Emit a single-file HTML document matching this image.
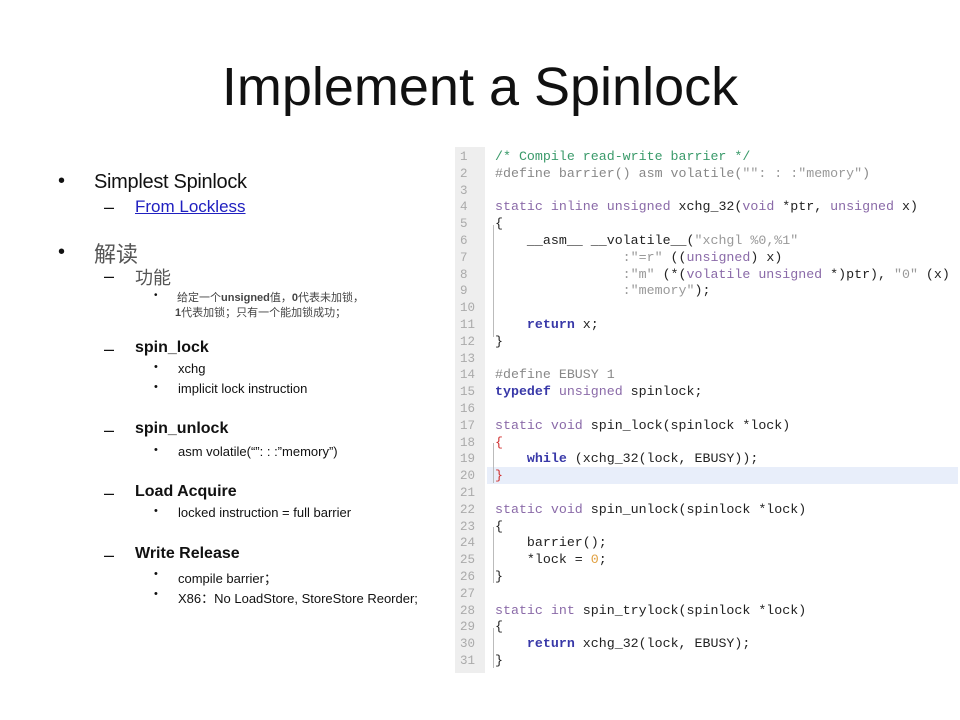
<!DOCTYPE html>
<html><head><meta charset="utf-8"><style>
body{margin:0;width:960px;height:720px;background:#fff;position:relative;overflow:hidden;font-family:"Liberation Sans","Noto Sans CJK SC",sans-serif;color:#111}
.a{position:absolute;white-space:nowrap}
h1{position:absolute;left:0;width:960px;top:56px;margin:0;text-align:center;font-weight:normal;font-size:54px;font-family:"Liberation Sans","DejaVu Sans",sans-serif;color:#111}
.code{position:absolute;left:455px;top:147px;width:503px;height:526px;background:#fff}
.gut{position:absolute;left:0;top:0;width:30px;height:526px;background:#eee}
.ln{position:absolute;left:0;width:28px;text-align:left;padding-left:5px;font:12.5px "Liberation Mono",monospace;color:#aaa}
.cl{position:absolute;left:40px;font:13.3px/16.8px "Liberation Mono",monospace;color:#222;white-space:pre}
.c{color:#3a9a6a}.p{color:#8a6aa8}.k{color:#3838a8;font-weight:bold}.s{color:#999}.g{color:#888}.o{color:#e0a040}
</style></head><body>
<h1>Implement a Spinlock</h1>
<div class="a" style="left:58px;top:170px;font-size:20px">•</div>
<div class="a" style="left:94px;top:171px;font-size:20px;letter-spacing:-0.3px">Simplest Spinlock</div>
<div class="a" style="left:104px;top:197px;font-size:18px">–</div>
<div class="a" style="left:135px;top:197px;font-size:17px;color:#2020c0;text-decoration:underline">From Lockless</div>
<div class="a" style="left:58px;top:241px;font-size:20px">•</div>
<div class="a" style="left:94px;top:237px;font-size:22px;color:#555">解读</div>
<div class="a" style="left:104px;top:266px;font-size:18px">–</div>
<div class="a" style="left:135px;top:264px;font-size:18px;color:#555">功能</div>
<div class="a" style="left:154px;top:290px;font-size:10px">•</div>
<div class="a" style="left:177px;top:289px;font-size:11px;color:#444">给定一个<b>unsigned</b>值，<b>0</b>代表未加锁，</div>
<div class="a" style="left:175px;top:304px;font-size:11px;color:#444"><b>1</b>代表加锁；只有一个能加锁成功；</div>
<div class="a" style="left:104px;top:339px;font-size:18px">–</div>
<div class="a" style="left:135px;top:339px;font-size:16px;font-weight:bold">spin_lock</div>
<div class="a" style="left:154px;top:361px;font-size:11px">•</div>
<div class="a" style="left:178px;top:361px;font-size:13px">xchg</div>
<div class="a" style="left:154px;top:381px;font-size:11px">•</div>
<div class="a" style="left:178px;top:381px;font-size:13px">implicit lock instruction</div>
<div class="a" style="left:104px;top:420px;font-size:18px">–</div>
<div class="a" style="left:135px;top:420px;font-size:16px;font-weight:bold">spin_unlock</div>
<div class="a" style="left:154px;top:444px;font-size:11px">•</div>
<div class="a" style="left:178px;top:444px;font-size:13px">asm volatile(“”: : :”memory”)</div>
<div class="a" style="left:104px;top:483px;font-size:18px">–</div>
<div class="a" style="left:135px;top:483px;font-size:16px;font-weight:bold">Load Acquire</div>
<div class="a" style="left:154px;top:505px;font-size:11px">•</div>
<div class="a" style="left:178px;top:505px;font-size:13px">locked instruction = full barrier</div>
<div class="a" style="left:104px;top:545px;font-size:18px">–</div>
<div class="a" style="left:135px;top:545px;font-size:16px;font-weight:bold">Write Release</div>
<div class="a" style="left:154px;top:568px;font-size:11px">•</div>
<div class="a" style="left:178px;top:568px;font-size:13px">compile barrier；</div>
<div class="a" style="left:154px;top:588px;font-size:11px">•</div>
<div class="a" style="left:178px;top:588px;font-size:13px">X86：No LoadStore, StoreStore Reorder;</div>

<div class="code">
<div class="gut"></div>
<div style="position:absolute;left:32px;top:320px;width:471px;height:17px;background:#e8eefa"></div>
<div style="position:absolute;left:38px;top:78px;width:1px;height:112px;background:#bbb"></div>
<div style="position:absolute;left:38px;top:296px;width:1px;height:40px;background:#bbb"></div>
<div style="position:absolute;left:38px;top:380px;width:1px;height:56px;background:#bbb"></div>
<div style="position:absolute;left:38px;top:481px;width:1px;height:40px;background:#bbb"></div>
<div class="cl" style="top:2px"><span class="c">/* Compile read-write barrier */</span>
<span class="g">#define barrier() asm volatile(</span><span class="s">"": : :"memory"</span><span class="g">)</span>

<span class="p">static inline unsigned</span> xchg_32(<span class="p">void</span> *ptr, <span class="p">unsigned</span> x)
{
    __asm__ __volatile__(<span class="s">"xchgl %0,%1"</span>
                <span class="s">:"=r"</span> ((<span class="p">unsigned</span>) x)
                <span class="s">:"m"</span> (*(<span class="p">volatile unsigned</span> *)ptr), <span class="s">"0"</span> (x)
                <span class="s">:"memory"</span>);

    <span class="k">return</span> x;
}

<span class="g">#define EBUSY 1</span>
<span class="k">typedef</span> <span class="p">unsigned</span> spinlock;

<span class="p">static void</span> spin_lock(spinlock *lock)
<span style="color:#d03030">{</span>
    <span class="k">while</span> (xchg_32(lock, EBUSY));
<span style="color:#d03030">}</span>

<span class="p">static void</span> spin_unlock(spinlock *lock)
{
    barrier();
    *lock = <span class="o">0</span>;
}

<span class="p">static int</span> spin_trylock(spinlock *lock)
{
    <span class="k">return</span> xchg_32(lock, EBUSY);
}</div>
<div class="ln" style="top:2px;line-height:16.8px;white-space:pre">1
2
3
4
5
6
7
8
9
10
11
12
13
14
15
16
17
18
19
20
21
22
23
24
25
26
27
28
29
30
31</div>
</div>
</body></html>
